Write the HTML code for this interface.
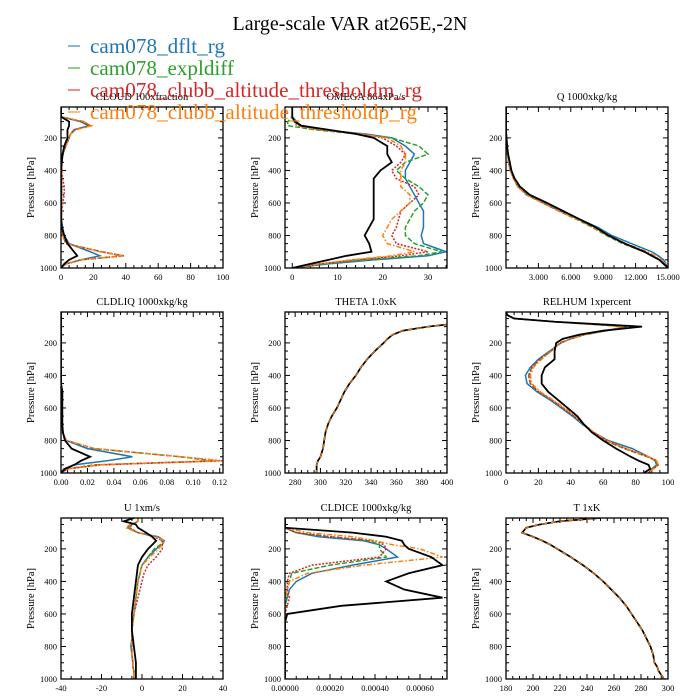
<!DOCTYPE html>
<html><head><meta charset="utf-8"><style>
html,body{margin:0;padding:0;background:#fff;}
svg{display:block;font-family:"Liberation Serif",serif;}
</style></head><body>
<svg id="fig" width="700" height="700" viewBox="0 0 700 700"></svg>
<script>
const P=[10,30,50,70,100,125,150,175,200,250,300,350,400,450,500,550,600,650,700,750,800,850,900,925,950,975,1000];
const SERIES_NAMES=["cam078_dflt_rg","cam078_expldiff","cam078_clubb_altitude_thresholdm_rg","cam078_clubb_altitude_thresholdp_rg"];
// CLOUD
const CLOUD_OBS=[0,0,0,0,5,5,4,4,4,2,1,0.5,0,0,0,0,0,0,0,0.5,2,4,8,10,5,2,0];
const CLOUD_DFLT=[0,0,0,0,12,17,8,6,5,3,1,0.5,0.3,0.3,0.5,0.5,0.3,0.3,0.3,1,2,5,18,24,12,3,0];
const CLOUD_EXPL=[0,0,0,0,14,18,9,6,5,3,1,0.5,0.3,0.3,0.5,0.5,0.3,0.3,0.3,0.5,1,3,25,38,12,3,0];
const CLOUD_M=[0,0,0,0,13,18,8,6,5,3,1,0.5,0.5,1,2,2,1,0.5,0.3,0.5,1,3,25,39,13,3,0];
const CLOUD_P=[0,0,0,0,14,19,9,6,5,3,1,0.5,0.3,0.3,0.5,0.5,0.3,0.3,0.3,0.5,1,3,24,38,12,3,0];
// OMEGA
const OMEGA_OBS=[0,0,0,0,0.5,2,8,14,18,21,21,22,19.5,18,18,18,18,18,18,17,16,17,17.5,12,8,4,0];
const OMEGA_DFLT=[0,0,0,0,1,2,6,16,22,25,27,26,25,25,26,27,28,29,29,29,28.5,29,34,30,18,8,0];
const OMEGA_EXPL=[0,0,0,0,-1,-1,5,14,22,28,30,25,23,25,28,30,29,27,26,25,25,27,33,28,16,7,0];
const OMEGA_M=[0,0,0,0,0.5,1,6,15,20,23,25,24,22,23,27,28,26,24,23.5,23,22,23,30,24,14,6,0];
const OMEGA_P=[0,0,0,0,0.5,1,6,15,21,24,25,25,24,24,24,26,26,24,22,21,20,21,27,22,13,6,0];
// Q
const Q_OBS=[0,0,0,0,0,0,0,0.02,0.05,0.1,0.2,0.35,0.5,0.8,1.3,2.2,3.8,5.3,6.8,8.3,9.5,11,12.8,13.5,14.2,14.6,15];
const Q_DFLT=[0,0,0,0,0,0,0,0.02,0.05,0.1,0.15,0.25,0.4,0.7,1.1,2,3.5,5,6.8,8.5,9.8,11.6,13.5,14.1,14.6,14.8,15];
const Q_EXPL=[0,0,0,0,0,0,0,0.02,0.05,0.1,0.15,0.25,0.4,0.7,1.1,1.9,3.4,4.9,6.5,8,9.3,10.8,12.8,13.5,14.2,14.6,15];
const Q_M=[0,0,0,0,0,0,0,0.02,0.05,0.1,0.15,0.25,0.4,0.7,1.1,1.9,3.4,4.9,6.6,8.1,9.4,11,13,13.7,14.3,14.7,15];
const Q_P=[0,0,0,0,0,0,0,0.02,0.05,0.1,0.15,0.25,0.4,0.7,1.1,1.9,3.4,4.9,6.6,8.1,9.4,11.1,13.1,13.8,14.4,14.7,15];
// CLDLIQ
const LIQ_OBS=[0,0,0,0,0,0,0,0,0,0,0,0,0,0,0.001,0.001,0.001,0.001,0.001,0.0015,0.003,0.008,0.022,0.015,0.01,0.003,0];
const LIQ_DFLT=[0,0,0,0,0,0,0,0,0,0,0,0,0,0,0,0,0,0,0,0.001,0.004,0.02,0.054,0.035,0.01,0.002,0];
const LIQ_EXPL=[0,0,0,0,0,0,0,0,0,0,0,0,0,0,0,0,0,0,0,0.001,0.004,0.025,0.09,0.115,0.025,0.004,0];
const LIQ_M=[0,0,0,0,0,0,0,0,0,0,0,0,0,0,0.001,0.001,0,0,0,0.001,0.004,0.025,0.09,0.122,0.03,0.005,0];
const LIQ_P=[0,0,0,0,0,0,0,0,0,0,0,0,0,0,0,0,0,0,0,0.001,0.004,0.025,0.09,0.12,0.028,0.005,0];
// THETA
const TH_ALL=[500,480,450,420,385,365,357,353,350,343,337,332,328,323,319,316,313,309,306,304,303,302,300,298,297,297,297];
// RELHUM
const RH_OBS=[0,1,5,30,84,60,45,35,31,30,30,24,22,22,26,32,38,44,48,53,60,68,77,82,88,89,85];
const RH_DFLT=[0,1,5,30,74,62,48,40,34,27,20,15,12,13,19,27,34,41,47,54,63,78,88,92,93,90,88];
const RH_EXPL=[0,1,5,30,75,62,48,40,33,28,21,16,14,15,20,28,35,42,48,54,61,73,87,93,93,90,88];
const RH_M=[0,1,5,30,74,62,48,40,33,28,21,16,14,15,20,28,35,42,48,54,62,74,88,93,94,91,88];
const RH_P=[0,1,5,30,73,62,48,40,33,28,22,17,15,16,21,29,36,43,48,54,62,74,88,93,94,91,88];
// U
const U_OBS=[-4,-9,-3,-2,2,5,7,5,3,0,-2,-2.5,-3,-3.5,-4,-4.5,-5,-5,-5,-4.5,-4,-3.5,-3,-3,-3,-3,-3];
const U_DFLT=[-2,-2,-5,-7,-2,8,11,10,7,3,0,-1,-2,-2.5,-3,-3.5,-4,-4.5,-5,-5,-5.5,-5,-4.5,-4.5,-4,-4,-4];
const U_EXPL=[-2,-2,-5,-7,-2,7,10,9,6,3,0,-1,-2,-2.5,-3,-3.5,-4,-4.5,-5,-5,-5,-5,-4.5,-4.5,-4,-4,-4];
const U_M=[-2,-2,-5,-6,-2,6,10,10,10,7,3,1,0,-1,-2,-3,-4,-4.5,-5,-5,-5,-5,-4.5,-4.5,-4,-4,-4];
const U_P=[-2,-2,-6,-8,-2,7,11,10,8,4,0,-1,-2,-2.5,-3,-3.5,-4,-4.5,-5,-5,-5,-5,-4.5,-4.5,-4,-4,-4];
// CLDICE
const ICE_OBS=[0,0,0,0,0.0003,0.00045,0.00052,0.00053,0.00055,0.00065,0.0007,0.00055,0.00045,0.00053,0.0007,0.00025,0.00001,0,0,0,0,0,0,0,0,0,0];
const ICE_DFLT=[0,0,0,0,0.00005,0.00015,0.00035,0.00042,0.00045,0.0005,0.0003,0.00012,0.00005,0.00002,0.00001,0,0,0,0,0,0,0,0,0,0,0,0];
const ICE_EXPL=[0,0,0,0,0.00005,0.0002,0.00038,0.00042,0.00042,0.00045,0.0002,0.00003,0.00002,0.00001,0.00001,0,0,0,0,0,0,0,0,0,0,0,0];
const ICE_M=[0,0,0,0,0.00005,0.0002,0.0004,0.00044,0.00045,0.00042,0.00012,0.00002,0.00001,0.00001,0.00002,0.00001,0,0,0,0,0,0,0,0,0,0,0];
const ICE_P=[0,0,0,0,0.0001,0.0003,0.0004,0.00048,0.0006,0.0007,0.00035,0.0001,0.00002,0.00001,0,0,0,0,0,0,0,0,0,0,0,0,0];
// T
const T_ALL=[250,220,205,195,192,200,207,213,218,228,237,245,252,258,264,269,273,277,281,284,287,289,290,292,293,295,297];

const CLOUD_TICKS=[0,20,40,60,80,100];
const OMEGA_TICKS=[0,10,20,30];
const Q_TICKS=[3,6,9,12,15];
const LIQ_TICKS=[0,0.02,0.04,0.06,0.08,0.1,0.12];
const TH_TICKS=[280,300,320,340,360,380,400];
const RH_TICKS=[0,20,40,60,80,100];
const U_TICKS=[-40,-20,0,20,40];
const ICE_TICKS=[0,0.0002,0.0004,0.0006];
const T_TICKS=[180,200,220,240,260,280,300];
const Y_TICKS=[200,400,600,800,1000];

const COLORS=["#1f77b4","#2ca02c","#d62728","#ff7f0e"];
const DASH=["none","5,2","2,1.5","5,2,1.5,2"];
const NS="http://www.w3.org/2000/svg";
const svg=document.getElementById('fig');
function mk(tag,attrs,parent){const e=document.createElementNS(NS,tag);for(const k in attrs)e.setAttribute(k,attrs[k]);(parent||svg).appendChild(e);return e;}

const panels=[
 {key:"cloud",title:"CLOUD  100xfraction",col:0,row:0,xmin:0,xmax:100,ticks:CLOUD_TICKS,fmt:v=>String(v),minor:4,s:[CLOUD_DFLT,CLOUD_EXPL,CLOUD_M,CLOUD_P],obs:CLOUD_OBS},
 {key:"omega",title:"OMEGA  864xPa/s",col:1,row:0,xmin:-1.6,xmax:34.2,ticks:OMEGA_TICKS,fmt:v=>String(v),minor:5,s:[OMEGA_DFLT,OMEGA_EXPL,OMEGA_M,OMEGA_P],obs:OMEGA_OBS},
 {key:"q",title:"Q  1000xkg/kg",col:2,row:0,xmin:0,xmax:15,ticks:Q_TICKS,fmt:v=>v.toFixed(3),minor:3,s:[Q_DFLT,Q_EXPL,Q_M,Q_P],obs:Q_OBS},
 {key:"cldliq",title:"CLDLIQ  1000xkg/kg",col:0,row:1,xmin:0,xmax:0.1225,ticks:LIQ_TICKS,fmt:v=>v.toFixed(2),minor:4,s:[LIQ_DFLT,LIQ_EXPL,LIQ_M,LIQ_P],obs:LIQ_OBS},
 {key:"theta",title:"THETA  1.0xK",col:1,row:1,xmin:272,xmax:400,ticks:TH_TICKS,fmt:v=>String(v),minor:4,s:[TH_ALL,TH_ALL,TH_ALL,TH_ALL],obs:TH_ALL},
 {key:"relhum",title:"RELHUM  1xpercent",col:2,row:1,xmin:0,xmax:100,ticks:RH_TICKS,fmt:v=>String(v),minor:4,s:[RH_DFLT,RH_EXPL,RH_M,RH_P],obs:RH_OBS},
 {key:"u",title:"U  1xm/s",col:0,row:2,xmin:-40,xmax:40,ticks:U_TICKS,fmt:v=>String(v),minor:4,s:[U_DFLT,U_EXPL,U_M,U_P],obs:U_OBS},
 {key:"cldice",title:"CLDICE  1000xkg/kg",col:1,row:2,xmin:0,xmax:0.00072,ticks:ICE_TICKS,fmt:v=>v.toFixed(5),minor:4,s:[ICE_DFLT,ICE_EXPL,ICE_M,ICE_P],obs:ICE_OBS},
 {key:"t",title:"T  1xK",col:2,row:2,xmin:180,xmax:300,ticks:T_TICKS,fmt:v=>String(v),minor:4,s:[T_ALL,T_ALL,T_ALL,T_ALL],obs:T_ALL}
];
const COLX=[61,285,506], ROWY=[107,312,518], W=162, H=161, PMIN=10, PMAX=1000;

panels.forEach(pn=>{
 const x0=COLX[pn.col], y0=ROWY[pn.row];
 const xs=v=>x0+(v-pn.xmin)/(pn.xmax-pn.xmin)*W;
 const ys=p=>y0+(p-PMIN)/(PMAX-PMIN)*H;
 const g=mk('g',{});
 
 
 const cid='clip-'+pn.key;
 const cp=mk('clipPath',{id:cid},g); mk('rect',{x:x0,y:y0,width:W,height:H},cp);
 const t=mk('text',{x:x0+W/2,y:y0-7,'text-anchor':'middle','font-size':'10.5'},g); t.textContent=pn.title;
 
 
 const yl=mk('text',{x:0,y:0,transform:`translate(${x0-27},${y0+H/2}) rotate(-90)`,'text-anchor':'middle','font-size':'10.5'},g); yl.textContent='Pressure [hPa]';
 
 
 for(let p=50;p<=1000;p+=50){
  const y=ys(p), major=(p%200===0), L=major?5:3;
  mk('line',{x1:x0,y1:y,x2:x0+L,y2:y,stroke:'#000','stroke-width':1},g);
  mk('line',{x1:x0+W,y1:y,x2:x0+W-L,y2:y,stroke:'#000','stroke-width':1},g);
 }
 Y_TICKS.forEach(p=>{const tl=mk('text',{x:x0-4,y:ys(p)+3,'text-anchor':'end','font-size':'8.5'},g);tl.textContent=String(p);
  
  });
 const step=pn.ticks[1]-pn.ticks[0];
 const first=pn.ticks[0]-step*2;
 for(let i=0;i<pn.ticks.length+4;i++){
  const base=first+i*step;
  for(let k=0;k<pn.minor;k++){
   const v=base+k*step/pn.minor; if(v<pn.xmin-1e-12||v>pn.xmax+1e-12)continue;
   const x=xs(v), L=k===0?5:3;
   mk('line',{x1:x,y1:y0+H,x2:x,y2:y0+H-L,stroke:'#000','stroke-width':1},g);
   mk('line',{x1:x,y1:y0,x2:x,y2:y0+L,stroke:'#000','stroke-width':1},g);
  }
 }
 pn.ticks.forEach(v=>{const tl=mk('text',{x:xs(v),y:y0+H+12,'text-anchor':'middle','font-size':'8.5'},g);tl.textContent=pn.fmt(v);
  
  });
 const lg=mk('g',{'clip-path':`url(#${cid})`},g);
 pn.s.forEach((arr,i)=>{
  const d=arr.map((v,j)=>(j?'L':'M')+xs(v).toFixed(2)+','+ys(P[j]).toFixed(2)).join('');
  const pa=mk('path',{d:d,fill:'none',stroke:COLORS[i],'stroke-width':1.5,'stroke-dasharray':DASH[i]},lg);
  
  
 });
 const d=pn.obs.map((v,j)=>(j?'L':'M')+xs(v).toFixed(2)+','+ys(P[j]).toFixed(2)).join('');
 const po=mk('path',{d:d,fill:'none',stroke:'#000','stroke-width':pn.obs===TH_ALL||pn.obs===T_ALL?1.6:1.8},lg);
 
 
 if(pn.obs===TH_ALL||pn.obs===T_ALL){
  const ov=mk('path',{d:d,fill:'none',stroke:'#ff7f0e','stroke-width':1,'stroke-dasharray':'5,4'},lg);
  
  
 }
 const fr=mk('rect',{x:x0,y:y0,width:W,height:H,fill:'none',stroke:'#000','stroke-width':1.3},g);
 
 
});

const title=mk('text',{x:350,y:30,'text-anchor':'middle','font-size':'20'});
title.textContent='Large-scale VAR at265E,-2N';


const LEG_Y=[53,75,97,119];
const LEG_W=[135,144,332,327];
SERIES_NAMES.forEach((n,i)=>{
 const ln=mk('line',{x1:68,y1:LEG_Y[i]-7,x2:80,y2:LEG_Y[i]-7,stroke:COLORS[i],'stroke-width':1.5,opacity:0.7});
 
 
 const tx=mk('text',{x:90,y:LEG_Y[i],'font-size':'21',fill:COLORS[i],textLength:LEG_W[i],lengthAdjust:'spacingAndGlyphs'});
 tx.textContent=n;
 
 
});
</script>
</body></html>
